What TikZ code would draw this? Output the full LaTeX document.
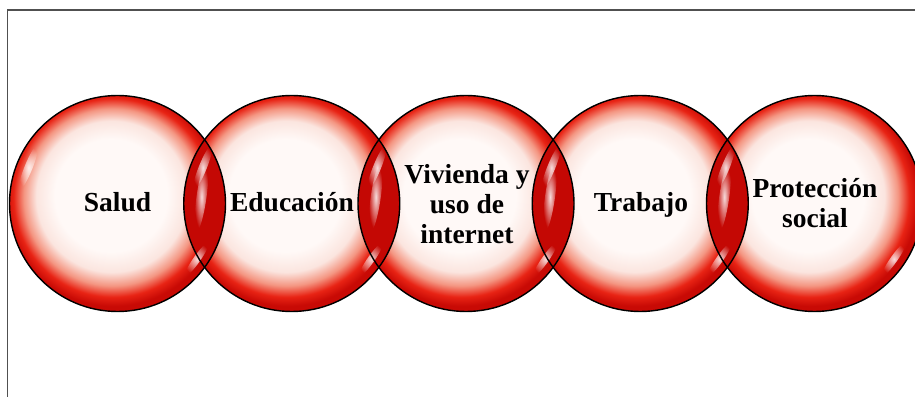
\documentclass[tikz,border=0pt]{standalone}
\usepackage{fontspec}
\setmainfont{Liberation Serif}
\usetikzlibrary{fadings}
\usetikzlibrary{calc}

\definecolor{bubcore}{RGB}{255,249,247}
\definecolor{bubpale}{RGB}{251,229,223}
\definecolor{bubpink}{RGB}{244,150,130}
\definecolor{bubred}{RGB}{232,35,20}
\definecolor{bubdeep}{RGB}{200,10,5}
\definecolor{lensred}{RGB}{236,40,26}
\definecolor{lensdark}{RGB}{196,8,4}
\definecolor{framegray}{RGB}{80,80,80}

% radius of the bubble = 25bp of the shading
\pgfdeclareradialshading{bubble}{\pgfpoint{-2bp}{2.5bp}}{%
  color(0bp)=(bubcore); color(13bp)=(bubcore); color(17.5bp)=(bubpale);
  color(20.5bp)=(bubpink); color(23bp)=(bubred); color(25bp)=(bubdeep);
  color(50bp)=(bubdeep)}
\tikzfading[name=glintfade, inner color=transparent!0, outer color=transparent!100]

\tikzset{
  bub/.style={circle, minimum size=216pt, inner sep=0pt, shade, shading=bubble},
  rim/.style={draw=black, line width=1.4pt},
  lens/.style={left color=lensdark, middle color=lensred, right color=lensdark},
  glint/.style={fill=white, path fading=glintfade, fill opacity=.85},
  lbl/.style={font=\bfseries\fontsize{27.5}{30}\selectfont, align=center, inner sep=0pt},
}

\begin{document}
\begin{tikzpicture}[x=1pt,y=1pt]
    \useasboundingbox (0,0) rectangle (915,396);
    \clip (0,0) rectangle (915,396);
    \fill[white] (0,0) rectangle (915,396);
    \draw[framegray, line width=1.5pt] (7.5,-5) -- (7.5,386) -- (925,386);

    % bubbles
    \node[bub] (salud) at (117.5,192.5) {};
    \node[bub] (educ) at (291.75,192.5) {};
    \node[bub] (viv) at (466,192.5) {};
    \node[bub] (trab) at (640.25,192.5) {};
    \node[bub] (prot) at (814.5,192.5) {};

    % overlaps
    \coordinate (l1) at ($(salud)!.5!(educ)$);
    \coordinate (l2) at ($(educ)!.5!(viv)$);
    \coordinate (l3) at ($(viv)!.5!(trab)$);
    \coordinate (l4) at ($(trab)!.5!(prot)$);
    \begin{scope}
      \clip (salud.center) circle (108); \clip (educ.center) circle (108);
      \shade[lens] ([shift={(-22,-66)}]l1) rectangle ([shift={(22,66)}]l1);
    \end{scope}
    \begin{scope}
      \clip (educ.center) circle (108); \clip (viv.center) circle (108);
      \shade[lens] ([shift={(-22,-66)}]l2) rectangle ([shift={(22,66)}]l2);
    \end{scope}
    \begin{scope}
      \clip (viv.center) circle (108); \clip (trab.center) circle (108);
      \shade[lens] ([shift={(-22,-66)}]l3) rectangle ([shift={(22,66)}]l3);
    \end{scope}
    \begin{scope}
      \clip (trab.center) circle (108); \clip (prot.center) circle (108);
      \shade[lens] ([shift={(-22,-66)}]l4) rectangle ([shift={(22,66)}]l4);
    \end{scope}
    \foreach \l in {l1,l2,l3,l4}
      \fill[glint, shift={(\l)}, rotate=-8] (-4,6) ellipse (5 and 34);

    % gloss on the rims
    \foreach \b in {salud,educ,viv,trab,prot}{
      \fill[glint, shift={(\b.center)}, rotate=158] (96,0) ellipse (4 and 24);
      \fill[glint, shift={(\b.center)}, rotate=-35] (97,0) ellipse (3.5 and 20);
    }

    % outlines
    \foreach \b in {salud,educ,viv,trab,prot}
      \draw[rim] (\b.center) circle (108);

    % labels
    \node[lbl, anchor=base] (t-salud) at (117.5,184) {Salud};
    \node[lbl, anchor=base] (t-educ) at (292,184) {Educación};
    \node[lbl] (t-viv) at (467,192) {Vivienda y\\uso de\\internet};
    \node[lbl, anchor=base] (t-trab) at (641,184) {Trabajo};
    \node[lbl] (t-prot) at (815,193) {Protección\\social};
\end{tikzpicture}
\end{document}
